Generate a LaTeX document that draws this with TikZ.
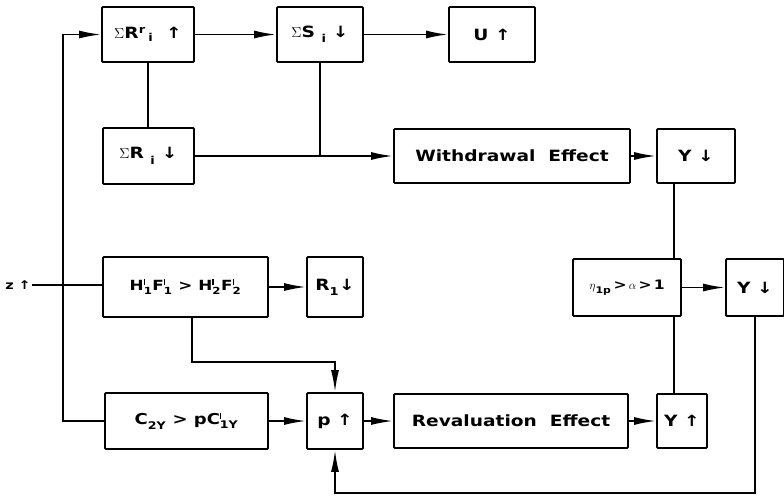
\documentclass[tikz,border=0pt]{standalone}
\usepackage[no-math]{fontspec}
\usepackage{amsmath}
\setmainfont{DejaVu Sans}[FakeStretch=1.2]
\usetikzlibrary{arrows.meta,calc}
\newcommand\SupSub[2]{\ensuremath{^{\text{#1}}_{\text{#2}}}}
\newcommand\tick{\rule{1.4pt}{5.5pt}}
\begin{document}
\begin{tikzpicture}[x=1pt,y=-1pt,
  box/.style={draw,line width=1.8pt,rounded corners=1pt,inner sep=0pt,
    font=\bfseries\fontsize{15.5}{18}\selectfont},
  arr/.style={line width=1.8pt,-{Latex[length=22pt,width=8pt]}},
  ln/.style={line width=1.8pt}]
\useasboundingbox (0,0) rectangle (784,496);
% row 1
\node[box,minimum width=92pt,minimum height=55pt] (Rr) at (148,34.5) {$\Sigma$R\ensuremath{^{\text{r}}}\,\ensuremath{{}_{\text{i}}}\ \ ↑};
\node[box,minimum width=86pt,minimum height=55pt] (S) at (320,34.5) {$\Sigma$S\ \SupSub{}{i}\ ↓};
\node[box,minimum width=86pt,minimum height=55pt] (U) at (492,34.5) {U ↑};
% row 2
\node[box,minimum width=91pt,minimum height=56pt] (R) at (148.5,156) {$\Sigma$R\ \SupSub{}{i}\ ↓};
\node[box,minimum width=236pt,minimum height=54pt] (W) at (512,156) {Withdrawal\ \ Effect};
\node[box,minimum width=78pt,minimum height=54pt] (Y1) at (696,156) {Y ↓};
% row 3
\node[box,minimum width=165pt,minimum height=60pt,font=\bfseries\fontsize{14}{16}\selectfont] (H) at (185.5,287) {H\SupSub{\tick}{1}F\SupSub{\tick}{1} > H\SupSub{\tick}{2}F\SupSub{\tick}{2}};
\node[box,minimum width=56pt,minimum height=60pt] (R1) at (335,287) {R\SupSub{}{1}↓};
\node[box,minimum width=108pt,minimum height=57pt,font=\bfseries\fontsize{13}{15}\selectfont] (eta) at (627,287.5) {$\eta$\SupSub{}{1p}\,>\,$\alpha$\,>\,1};
\node[box,minimum width=58pt,minimum height=57pt] (Y2) at (755,287.5) {Y ↓};
\node[font=\bfseries\fontsize{12}{14}\selectfont,inner sep=1pt] (z) at (18,285) {z ↑};
% row 4
\node[box,minimum width=163pt,minimum height=56pt,font=\bfseries\fontsize{15}{17}\selectfont] (C) at (186.5,421) {C\SupSub{}{2Y} > pC\SupSub{\tick}{1Y}};
\node[box,minimum width=56pt,minimum height=56pt] (P) at (335,421) {p ↑};
\node[box,minimum width=234pt,minimum height=54pt] (Rev) at (511,421) {Revaluation\ \ Effect};
\node[box,minimum width=50pt,minimum height=54pt] (Y3) at (682,421) {Y ↑};
% helper coordinates
\coordinate (fl) at (63,0);
\coordinate (vr) at (674,0);
\coordinate (hj) at (192,362);
\coordinate (bot) at (0,493);
% connectors
\draw[arr] (Rr) -- (S);
\draw[arr] (S) -- (U);
\draw[ln] (Rr.south) -- (Rr.south |- R.north);
\draw[ln] (S.south) -- (S.south |- R.east);
\draw[arr] (R) -- (W);
\draw[arr] (W) -- (Y1);
\draw[ln] (Y1.south -| vr) -- (eta.north -| vr);
\draw[ln] (eta.south -| vr) -- (Y3.north -| vr);
\draw[arr] (eta) -- (Y2);
\draw[arr] (Y2.south) |- (P.south |- bot) -- (P.south);
\draw[ln] (z.east) -- (z.east -| H.west);
\draw[arr] (H) -- (R1);
\draw[arr] (hj |- H.south) -- (hj) -| (P.north);
\draw[arr] (C.west) -| (fl |- Rr.west) -- (Rr.west);
\draw[arr] (C) -- (P);
\draw[arr] (P) -- (Rev);
\draw[arr] (Rev) -- (Y3);
\end{tikzpicture}
\end{document}
